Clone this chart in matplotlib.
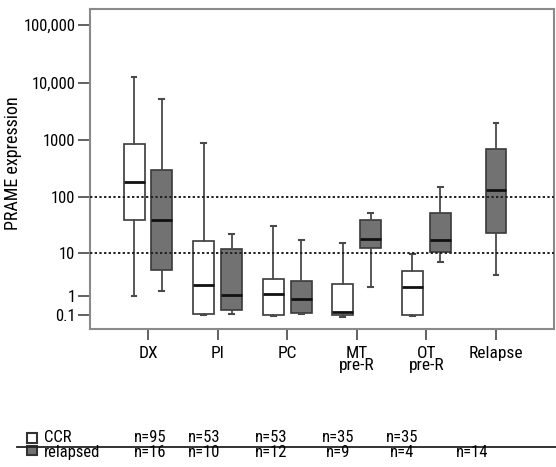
import numpy as np
import matplotlib
matplotlib.use("Agg")
import matplotlib.pyplot as plt
from matplotlib import font_manager
from matplotlib.patches import Rectangle
from matplotlib.lines import Line2D

# ---------------- data ----------------
categories = ["DX", "PI", "PC", "MT\npre-R", "OT\npre-R", "Relapse"]

# CCR boxes: (whislo, q1, med, q3, whishi)
ccr_whislo = [1.0, 0.1, 0.095, 0.085, 0.092]
ccr_q1     = [38.5, 0.12, 0.11, 0.1, 0.108]
ccr_med    = [187, 1.8, 1.14, 0.148, 1.58]
ccr_q3     = [850, 16.6, 2.45, 1.86, 3.85]
ccr_whishi = [12600, 900, 30, 15, 9.5]

# relapsed boxes
rel_whislo = [1.32, 0.122, 0.122, 1.63, 6.1, 3.1]
rel_q1     = [3.9, 0.18, 0.138, 12.3, 10.5, 22.9]
rel_med    = [39.7, 1.08, 0.73, 17.9, 16.9, 132]
rel_q3     = [303, 11.5, 2.22, 39.7, 52, 700]
rel_whishi = [5120, 22.2, 17.3, 51.5, 149, 1960]

n_ccr = ["n=95", "n=53", "n=53", "n=35", "n=35"]
n_rel = ["n=16", "n=10", "n=12", "n=9", "n=4", "n=14"]

ref_levels = [100, 10]
ytick_vals = [0.1, 1, 10, 100, 1000, 10000, 100000]
ytick_labels = ["0.1", "1", "10", "100", "1000", "10,000", "100,000"]

# ---------------- fonts ----------------
names = {f.name for f in font_manager.fontManager.ttflist}
FAM = [n for n in ["Roboto Condensed", "Archivo Narrow", "PT Sans Narrow"] if n in names] + ["DejaVu Sans"]
plt.rcParams["font.family"] = FAM

# ---------------- custom axis scale (log-like, compressed below 10) ----------------
LX = np.log10([0.1, 1, 10, 100, 1e3, 1e4, 1e5])
LT = np.array([0.0, 19.3, 62.6, 118.0, 175.3, 232.6, 290.3])
s_lo = (LT[1] - LT[0]) / (LX[1] - LX[0])
s_hi = (LT[-1] - LT[-2]) / (LX[-1] - LX[-2])

def fwd(v):
    v = np.asarray(v, dtype=float)
    lv = np.log10(np.maximum(v, 1e-12))
    t = np.interp(lv, LX, LT)
    t = np.where(lv < LX[0], LT[0] + (lv - LX[0]) * s_lo, t)
    t = np.where(lv > LX[-1], LT[-1] + (lv - LX[-1]) * s_hi, t)
    return t

def inv(t):
    t = np.asarray(t, dtype=float)
    lv = np.interp(t, LT, LX)
    lv = np.where(t < LT[0], LX[0] + (t - LT[0]) / s_lo, lv)
    lv = np.where(t > LT[-1], LX[-1] + (t - LT[-1]) / s_hi, lv)
    return 10 ** lv

# ---------------- figure ----------------
fig = plt.figure(figsize=(5.56, 4.67), dpi=100)
ax = fig.add_axes([90 / 556, 1 - 329.3 / 467, (554 - 90) / 556, (329.3 - 9) / 467])
ax.set_yscale("function", functions=(fwd, inv))

spine_col = "#8a8a8a"
edge_col = "#3a3a3a"
gray_fill = "#727272"

def make_stats(lo, q1, med, q3, hi):
    return [dict(whislo=a, q1=b, med=c, q3=d, whishi=e, fliers=[])
            for a, b, c, d, e in zip(lo, q1, med, q3, hi)]

off = 0.2
bw = 0.30
pos_ccr = [i - off for i in range(len(ccr_med))]
pos_rel = [i + off for i in range(len(rel_med) - 1)] + [len(rel_med) - 1]

common = dict(widths=bw, patch_artist=True, showfliers=False,
              whiskerprops=dict(color="#4a4a4a", linewidth=1.3),
              capprops=dict(color="#4a4a4a", linewidth=1.5),
              medianprops=dict(color="#111111", linewidth=2.0),
              capwidths=0.07)

ax.bxp(make_stats(ccr_whislo, ccr_q1, ccr_med, ccr_q3, ccr_whishi),
       positions=pos_ccr,
       boxprops=dict(facecolor="white", edgecolor=edge_col, linewidth=1.2),
       **common)
ax.bxp(make_stats(rel_whislo, rel_q1, rel_med, rel_q3, rel_whishi),
       positions=pos_rel,
       boxprops=dict(facecolor=gray_fill, edgecolor=edge_col, linewidth=1.2),
       **common)

for lvl in ref_levels:
    ax.axhline(lvl, color="#222222", linestyle=(0, (1.2, 1.2)), linewidth=1.4, zorder=5)

ax.set_xlim(-0.833, 5.833)
ax.set_ylim(inv(-14.0), inv(306.3))

ax.set_xticks(range(len(categories)))
ax.set_xticklabels(categories, fontsize=12.5, linespacing=0.75)
ax.set_yticks(ytick_vals)
ax.set_yticklabels(ytick_labels, fontsize=12)
ax.yaxis.set_minor_locator(matplotlib.ticker.NullLocator())
ax.tick_params(axis="y", length=9, width=1.3, color="#555555", pad=1.5)
ax.tick_params(axis="x", length=8, width=1.3, color="#555555", pad=4)
for sp in ax.spines.values():
    sp.set_color(spine_col)
    sp.set_linewidth(1.5)

ax.set_ylabel("PRAME expression", fontsize=13)
ax.yaxis.set_label_coords((22 - 90) / 464, (329.3 - 163) / 320.3)

# ---------------- bottom n-table ----------------
W, H = 556.0, 467.0
def fx(px):
    return px / W
def fy(py):
    return 1 - py / H

fig.add_artist(Line2D([fx(17), fx(556)], [fy(446.7), fy(446.7)],
                      color="#222222", linewidth=1.3))
fig.add_artist(Rectangle((fx(26.5), fy(443)), 10.5 / W, 10 / H,
                         facecolor="white", edgecolor="#333333", linewidth=1.5))
fig.add_artist(Rectangle((fx(26.5), fy(455)), 10.5 / W, 9.5 / H,
                         facecolor=gray_fill, edgecolor="#333333", linewidth=1.5))
fig.text(fx(44), fy(437), "CCR", fontsize=12, va="center", ha="left")
fig.text(fx(44), fy(452.5), "relapsed", fontsize=12, va="center", ha="left")

n_x = [150, 204, 271, 338, 402, 472]
for x, s in zip(n_x, n_ccr):
    fig.text(fx(x), fy(437), s, fontsize=12, va="center", ha="center")
for x, s in zip(n_x, n_rel):
    fig.text(fx(x), fy(452.5), s, fontsize=12, va="center", ha="center")

fig.savefig("out.png", dpi=100)
